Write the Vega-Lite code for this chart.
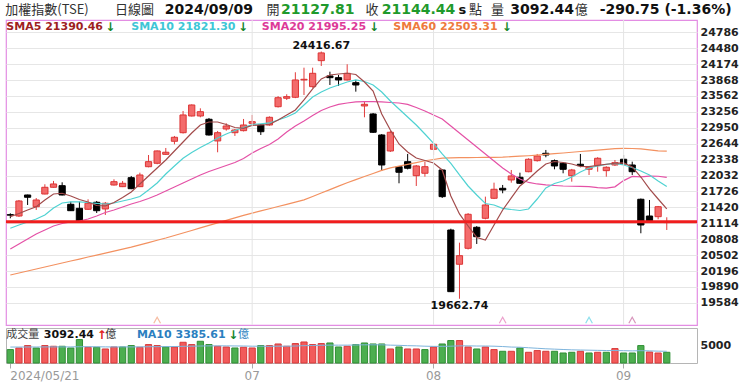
{
"$schema": "https://vega.github.io/schema/vega-lite/v6.json",
"background": "white",
"padding": {"left": 3, "top": 0, "right": 0, "bottom": 0},
"config": {"font": "DejaVu Sans", "view": {"stroke": null}},
"resolve": {"scale": {"x": "shared"}, "axis": {"x": "independent"}},
"spacing": 3,
"bounds": "flush",
"datasets": {
"ohlc": [
{"date":"2024-05-21","open":21280,"high":21306,"low":21210,"close":21270,"volume":3870,"trend":"down","sma5":21241,"sma10":21018,"sma20":20620,"sma60":20120,"vma10":4600},
{"date":"2024-05-22","open":21254,"high":21562,"low":21235,"close":21543,"volume":4335,"trend":"up","sma5":21302,"sma10":21081,"sma20":20716,"sma60":20158,"vma10":4600},
{"date":"2024-05-23","open":21658,"high":21665,"low":21466,"close":21614,"volume":5030,"trend":"up","sma5":21370,"sma10":21139,"sma20":20812,"sma60":20196,"vma10":4620},
{"date":"2024-05-24","open":21433,"high":21600,"low":21370,"close":21562,"volume":4335,"trend":"down","sma5":21433,"sma10":21197,"sma20":20908,"sma60":20235,"vma10":4620},
{"date":"2024-05-27","open":21677,"high":21864,"low":21670,"close":21806,"volume":5030,"trend":"up","sma5":21562,"sma10":21274,"sma20":20985,"sma60":20273,"vma10":4640},
{"date":"2024-05-28","open":21806,"high":21928,"low":21800,"close":21870,"volume":4826,"trend":"up","sma5":21677,"sma10":21408,"sma20":21062,"sma60":20311,"vma10":4650},
{"date":"2024-05-29","open":21837,"high":21902,"low":21650,"close":21658,"volume":4826,"trend":"down","sma5":21691,"sma10":21504,"sma20":21110,"sma60":20350,"vma10":4650},
{"date":"2024-05-30","open":21479,"high":21529,"low":21350,"close":21356,"volume":4335,"trend":"down","sma5":21639,"sma10":21524,"sma20":21139,"sma60":20388,"vma10":4640},
{"date":"2024-05-31","open":21402,"high":21529,"low":21139,"close":21158,"volume":6760,"trend":"down","sma5":21572,"sma10":21524,"sma20":21158,"sma60":20426,"vma10":4700},
{"date":"2024-06-03","open":21383,"high":21575,"low":21370,"close":21499,"volume":4537,"trend":"up","sma5":21524,"sma10":21514,"sma20":21197,"sma60":20465,"vma10":4700},
{"date":"2024-06-04","open":21518,"high":21543,"low":21312,"close":21356,"volume":4537,"trend":"down","sma5":21456,"sma10":21495,"sma20":21254,"sma60":20503,"vma10":4680},
{"date":"2024-06-05","open":21389,"high":21523,"low":21274,"close":21499,"volume":4046,"trend":"up","sma5":21447,"sma10":21485,"sma20":21322,"sma60":20541,"vma10":4650},
{"date":"2024-06-06","open":21850,"high":21960,"low":21840,"close":21914,"volume":4624,"trend":"up","sma5":21514,"sma10":21504,"sma20":21370,"sma60":20580,"vma10":4630},
{"date":"2024-06-07","open":21818,"high":21928,"low":21810,"close":21883,"volume":4624,"trend":"down","sma5":21610,"sma10":21543,"sma20":21427,"sma60":20618,"vma10":4640},
{"date":"2024-06-11","open":21991,"high":22024,"low":21770,"close":21779,"volume":5030,"trend":"down","sma5":21716,"sma10":21581,"sma20":21485,"sma60":20656,"vma10":4650},
{"date":"2024-06-12","open":21818,"high":22087,"low":21810,"close":22043,"volume":4537,"trend":"up","sma5":21870,"sma10":21629,"sma20":21533,"sma60":20698,"vma10":4640},
{"date":"2024-06-13","open":22202,"high":22427,"low":22190,"close":22299,"volume":5318,"trend":"up","sma5":22024,"sma10":21754,"sma20":21591,"sma60":20742,"vma10":4700},
{"date":"2024-06-14","open":22268,"high":22514,"low":22249,"close":22505,"volume":5030,"trend":"up","sma5":22177,"sma10":21889,"sma20":21658,"sma60":20787,"vma10":4720},
{"date":"2024-06-17","open":22440,"high":22562,"low":22427,"close":22480,"volume":4624,"trend":"down","sma5":22331,"sma10":22062,"sma20":21735,"sma60":20831,"vma10":4720},
{"date":"2024-06-18","open":22691,"high":22793,"low":22633,"close":22768,"volume":4624,"trend":"up","sma5":22504,"sma10":22216,"sma20":21812,"sma60":20879,"vma10":4750},
{"date":"2024-06-19","open":22856,"high":23274,"low":22840,"close":23197,"volume":5982,"trend":"up","sma5":22677,"sma10":22364,"sma20":21889,"sma60":20928,"vma10":4820},
{"date":"2024-06-20","open":23177,"high":23400,"low":23168,"close":23389,"volume":5318,"trend":"up","sma5":22850,"sma10":22475,"sma20":21966,"sma60":20976,"vma10":4850},
{"date":"2024-06-21","open":23177,"high":23325,"low":23152,"close":23260,"volume":6271,"trend":"down","sma5":23004,"sma10":22572,"sma20":22043,"sma60":21025,"vma10":4900},
{"date":"2024-06-24","open":23114,"high":23139,"low":22800,"close":22812,"volume":5318,"trend":"down","sma5":23062,"sma10":22658,"sma20":22110,"sma60":21073,"vma10":4950},
{"date":"2024-06-25","open":22697,"high":22889,"low":22479,"close":22856,"volume":4826,"trend":"up","sma5":23062,"sma10":22754,"sma20":22168,"sma60":21122,"vma10":4950},
{"date":"2024-06-26","open":22927,"high":23037,"low":22895,"close":22985,"volume":4624,"trend":"up","sma5":23014,"sma10":22831,"sma20":22226,"sma60":21170,"vma10":4950},
{"date":"2024-06-27","open":22856,"high":22927,"low":22793,"close":22908,"volume":4335,"trend":"down","sma5":22956,"sma10":22899,"sma20":22283,"sma60":21218,"vma10":4920},
{"date":"2024-06-28","open":22895,"high":23120,"low":22880,"close":23004,"volume":4537,"trend":"up","sma5":22941,"sma10":22956,"sma20":22360,"sma60":21267,"vma10":4900},
{"date":"2024-07-01","open":23036,"high":23197,"low":23020,"close":23068,"volume":4335,"trend":"up","sma5":22995,"sma10":23014,"sma20":22466,"sma60":21310,"vma10":4850},
{"date":"2024-07-02","open":23004,"high":23020,"low":22812,"close":22875,"volume":5030,"trend":"down","sma5":23004,"sma10":23027,"sma20":22552,"sma60":21352,"vma10":4850},
{"date":"2024-07-03","open":23004,"high":23170,"low":22990,"close":23152,"volume":5030,"trend":"up","sma5":23014,"sma10":23043,"sma20":22629,"sma60":21394,"vma10":4820},
{"date":"2024-07-04","open":23356,"high":23560,"low":23340,"close":23529,"volume":5491,"trend":"up","sma5":23100,"sma10":23100,"sma20":22735,"sma60":21436,"vma10":4850},
{"date":"2024-07-05","open":23518,"high":23595,"low":23485,"close":23549,"volume":4826,"trend":"up","sma5":23197,"sma10":23158,"sma20":22870,"sma60":21478,"vma10":4850},
{"date":"2024-07-08","open":23537,"high":24018,"low":23520,"close":23870,"volume":5607,"trend":"up","sma5":23293,"sma10":23235,"sma20":22985,"sma60":21521,"vma10":4900},
{"date":"2024-07-09","open":23870,"high":24106,"low":23581,"close":23883,"volume":6069,"trend":"up","sma5":23485,"sma10":23389,"sma20":23081,"sma60":21563,"vma10":5000},
{"date":"2024-07-10","open":23741,"high":24106,"low":23720,"close":23998,"volume":5318,"trend":"up","sma5":23697,"sma10":23543,"sma20":23187,"sma60":21629,"vma10":5050},
{"date":"2024-07-11","open":24241,"high":24416.67,"low":24139,"close":24390.03,"volume":5607,"trend":"up","sma5":23889,"sma10":23639,"sma20":23283,"sma60":21695,"vma10":5100},
{"date":"2024-07-12","open":23947,"high":24029,"low":23773,"close":23914,"volume":5780,"trend":"down","sma5":23966,"sma10":23716,"sma20":23350,"sma60":21762,"vma10":5150},
{"date":"2024-07-15","open":23914,"high":23966,"low":23754,"close":23870,"volume":4624,"trend":"down","sma5":23985,"sma10":23774,"sma20":23399,"sma60":21828,"vma10":5150},
{"date":"2024-07-16","open":23870,"high":24172,"low":23860,"close":23998,"volume":4826,"trend":"up","sma5":23999,"sma10":23831,"sma20":23427,"sma60":21894,"vma10":5150},
{"date":"2024-07-17","open":23818,"high":23870,"low":23645,"close":23773,"volume":5318,"trend":"down","sma5":23975,"sma10":23870,"sma20":23447,"sma60":21954,"vma10":5200},
{"date":"2024-07-18","open":23370,"high":23452,"low":23152,"close":23402,"volume":5780,"trend":"down","sma5":23831,"sma10":23841,"sma20":23452,"sma60":22013,"vma10":5250},
{"date":"2024-07-19","open":23216,"high":23235,"low":22850,"close":22864,"volume":5491,"trend":"down","sma5":23658,"sma10":23774,"sma20":23452,"sma60":22072,"vma10":5250},
{"date":"2024-07-22","open":22812,"high":22830,"low":22120,"close":22235,"volume":5491,"trend":"down","sma5":23216,"sma10":23639,"sma20":23447,"sma60":22131,"vma10":5250},
{"date":"2024-07-23","open":22504,"high":22889,"low":22485,"close":22864,"volume":4046,"trend":"up","sma5":22908,"sma10":23466,"sma20":23437,"sma60":22180,"vma10":5150},
{"date":"2024-07-26","open":22202,"high":22215,"low":21883,"close":22095,"volume":4624,"trend":"down","sma5":22639,"sma10":23312,"sma20":23427,"sma60":22214,"vma10":5100},
{"date":"2024-07-29","open":22299,"high":22447,"low":22150,"close":22172,"volume":4046,"trend":"up","sma5":22485,"sma10":23158,"sma20":23399,"sma60":22248,"vma10":5000},
{"date":"2024-07-30","open":22029,"high":22235,"low":21831,"close":22216,"volume":4046,"trend":"up","sma5":22370,"sma10":23004,"sma20":23341,"sma60":22282,"vma10":4950},
{"date":"2024-07-31","open":22076,"high":22299,"low":22010,"close":22202,"volume":3870,"trend":"down","sma5":22322,"sma10":22831,"sma20":23274,"sma60":22316,"vma10":4850},
{"date":"2024-08-01","open":22537,"high":22660,"low":22427,"close":22633,"volume":4624,"trend":"up","sma5":22274,"sma10":22652,"sma20":23197,"sma60":22340,"vma10":4800},
{"date":"2024-08-02","open":22139,"high":22150,"low":21600,"close":21626,"volume":5491,"trend":"down","sma5":22139,"sma10":22447,"sma20":23120,"sma60":22366,"vma10":4800},
{"date":"2024-08-05","open":20985,"high":21010,"low":19793,"close":19799,"volume":6474,"trend":"down","sma5":21639,"sma10":22268,"sma20":22985,"sma60":22372,"vma10":4850},
{"date":"2024-08-06","open":20326,"high":20741,"low":19662.74,"close":20491,"volume":6474,"trend":"up","sma5":21293,"sma10":22043,"sma20":22850,"sma60":22375,"vma10":4950},
{"date":"2024-08-07","open":20633,"high":21310,"low":20610,"close":21287,"volume":4624,"trend":"up","sma5":21062,"sma10":21831,"sma20":22716,"sma60":22377,"vma10":4950},
{"date":"2024-08-08","open":21037,"high":21060,"low":20716,"close":20856,"volume":4046,"trend":"down","sma5":20841,"sma10":21658,"sma20":22581,"sma60":22379,"vma10":4900},
{"date":"2024-08-09","open":21210,"high":21626,"low":21190,"close":21466,"volume":4624,"trend":"up","sma5":20793,"sma10":21495,"sma20":22447,"sma60":22381,"vma10":4900},
{"date":"2024-08-12","open":21595,"high":21895,"low":21580,"close":21768,"volume":3870,"trend":"up","sma5":21081,"sma10":21466,"sma20":22312,"sma60":22383,"vma10":4850},
{"date":"2024-08-13","open":21787,"high":21851,"low":21691,"close":21754,"volume":3381,"trend":"down","sma5":21370,"sma10":21402,"sma20":22177,"sma60":22386,"vma10":4750},
{"date":"2024-08-14","open":21947,"high":22139,"low":21895,"close":22024,"volume":3381,"trend":"up","sma5":21601,"sma10":21379,"sma20":22062,"sma60":22395,"vma10":4600},
{"date":"2024-08-15","open":21999,"high":22087,"low":21870,"close":21883,"volume":4335,"trend":"down","sma5":21831,"sma10":21360,"sma20":21966,"sma60":22404,"vma10":4550},
{"date":"2024-08-16","open":22106,"high":22364,"low":22095,"close":22345,"volume":3092,"trend":"up","sma5":21966,"sma10":21389,"sma20":21899,"sma60":22413,"vma10":4400},
{"date":"2024-08-19","open":22318,"high":22447,"low":22300,"close":22408,"volume":3584,"trend":"up","sma5":22120,"sma10":21581,"sma20":21870,"sma60":22424,"vma10":4250},
{"date":"2024-08-20","open":22460,"high":22524,"low":22383,"close":22427,"volume":3381,"trend":"up","sma5":22254,"sma10":21793,"sma20":21851,"sma60":22438,"vma10":4100},
{"date":"2024-08-21","open":22318,"high":22340,"low":22152,"close":22216,"volume":3381,"trend":"down","sma5":22302,"sma10":21879,"sma20":21841,"sma60":22452,"vma10":4000},
{"date":"2024-08-22","open":22268,"high":22290,"low":22075,"close":22152,"volume":2890,"trend":"down","sma5":22283,"sma10":21927,"sma20":21831,"sma60":22466,"vma10":3900},
{"date":"2024-08-23","open":22029,"high":22160,"low":21914,"close":22139,"volume":3092,"trend":"down","sma5":22254,"sma10":22004,"sma20":21826,"sma60":22480,"vma10":3800},
{"date":"2024-08-26","open":22249,"high":22447,"low":22191,"close":22222,"volume":3381,"trend":"up","sma5":22206,"sma10":22100,"sma20":21822,"sma60":22494,"vma10":3750},
{"date":"2024-08-27","open":22152,"high":22210,"low":22043,"close":22191,"volume":2890,"trend":"down","sma5":22202,"sma10":22177,"sma20":21818,"sma60":22506,"vma10":3700},
{"date":"2024-08-28","open":22222,"high":22385,"low":22106,"close":22364,"volume":3092,"trend":"up","sma5":22226,"sma10":22216,"sma20":21800,"sma60":22521,"vma10":3650},
{"date":"2024-08-29","open":22126,"high":22210,"low":22010,"close":22191,"volume":3092,"trend":"down","sma5":22249,"sma10":22245,"sma20":21790,"sma60":22536,"vma10":3600},
{"date":"2024-08-30","open":22235,"high":22331,"low":22216,"close":22280,"volume":4162,"trend":"up","sma5":22268,"sma10":22264,"sma20":21815,"sma60":22550,"vma10":3600},
{"date":"2024-09-02","open":22345,"high":22427,"low":22216,"close":22254,"volume":2890,"trend":"down","sma5":22274,"sma10":22235,"sma20":21935,"sma60":22556,"vma10":3550},
{"date":"2024-09-03","open":22235,"high":22299,"low":22043,"close":22106,"volume":2890,"trend":"down","sma5":22197,"sma10":22187,"sma20":22015,"sma60":22552,"vma10":3500},
{"date":"2024-09-04","open":21576,"high":21590,"low":20922,"close":21081,"volume":5030,"trend":"down","sma5":22004,"sma10":22120,"sma20":22008,"sma60":22544,"vma10":3550},
{"date":"2024-09-05","open":21254,"high":21562,"low":21140,"close":21164,"volume":3179,"trend":"up","sma5":21774,"sma10":22043,"sma20":22020,"sma60":22526,"vma10":3500},
{"date":"2024-09-06","open":21241,"high":21447,"low":21191,"close":21433,"volume":2890,"trend":"up","sma5":21581,"sma10":21927,"sma20":22018,"sma60":22508,"vma10":3420},
{"date":"2024-09-09","open":21127.81,"high":21229,"low":20985,"close":21144.44,"volume":3092.44,"trend":"down","sma5":21390.46,"sma10":21821.30,"sma20":21995.25,"sma60":22503.31,"vma10":3385.61}
],
"signals": [
{"date":"2024-06-14","ma":"SMA60"},
{"date":"2024-08-13","ma":"SMA20"},
{"date":"2024-08-27","ma":"SMA10"},
{"date":"2024-09-03","ma":"SMA5"}
],
"months": [
{"date":"2024-07-01"},
{"date":"2024-08-01"},
{"date":"2024-09-02"}
]
},
"vconcat": [
{
"width": 691, "height": 17,
"view": {"stroke": null},
"data": {"values": [{}]},
"layer": [
{"mark": {"type":"text","text":"加權指數(TSE)","align":"left","baseline":"middle","font":"Noto Sans CJK TC","fontSize":13,"color":"#333333","dx":-5,"dy":1}, "encoding": {"x": {"datum":"2024-05-21","type":"ordinal","axis":null}}},
{"mark": {"type":"text","text":"日線圖","align":"left","baseline":"middle","font":"Noto Sans CJK TC","fontSize":13,"color":"#333333","dx":1,"dy":1}, "encoding": {"x": {"datum":"2024-06-06","type":"ordinal","axis":null}}},
{"mark": {"type":"text","text":"2024/09/09","align":"left","baseline":"middle","fontSize":14,"fontWeight":"bold","color":"#111111","dx":-1,"dy":1}, "encoding": {"x": {"datum":"2024-06-17","type":"ordinal","axis":null}}},
{"mark": {"type":"text","text":"開","align":"left","baseline":"middle","font":"Noto Sans CJK TC","fontSize":13,"color":"#333333","dx":-3,"dy":1}, "encoding": {"x": {"datum":"2024-07-03","type":"ordinal","axis":null}}},
{"mark": {"type":"text","text":"21127.81","align":"left","baseline":"middle","fontSize":14,"fontWeight":"bold","color":"#1f9a2c","dx":3,"dy":1}, "encoding": {"x": {"datum":"2024-07-04","type":"ordinal","axis":null}}},
{"mark": {"type":"text","text":"收","align":"left","baseline":"middle","font":"Noto Sans CJK TC","fontSize":13,"color":"#333333","dx":1,"dy":1}, "encoding": {"x": {"datum":"2024-07-18","type":"ordinal","axis":null}}},
{"mark": {"type":"text","text":"21144.44","align":"left","baseline":"middle","fontSize":14,"fontWeight":"bold","color":"#1f9a2c","dx":0,"dy":1}, "encoding": {"x": {"datum":"2024-07-22","type":"ordinal","axis":null}}},
{"mark": {"type":"text","text":"s","align":"left","baseline":"middle","fontSize":13,"fontWeight":"bold","color":"#111111","dx":-1,"dy":1}, "encoding": {"x": {"datum":"2024-08-06","type":"ordinal","axis":null}}},
{"mark": {"type":"text","text":"點","align":"left","baseline":"middle","font":"Noto Sans CJK TC","fontSize":13,"color":"#333333","dx":1,"dy":1}, "encoding": {"x": {"datum":"2024-08-07","type":"ordinal","axis":null}}},
{"mark": {"type":"text","text":"量","align":"left","baseline":"middle","font":"Noto Sans CJK TC","fontSize":13,"color":"#333333","dx":-3,"dy":1}, "encoding": {"x": {"datum":"2024-08-12","type":"ordinal","axis":null}}},
{"mark": {"type":"text","text":"3092.44","align":"left","baseline":"middle","fontSize":14,"fontWeight":"bold","color":"#111111","dx":-1,"dy":1}, "encoding": {"x": {"datum":"2024-08-14","type":"ordinal","axis":null}}},
{"mark": {"type":"text","text":"億","align":"left","baseline":"middle","font":"Noto Sans CJK TC","fontSize":13,"color":"#333333","dx":3,"dy":1}, "encoding": {"x": {"datum":"2024-08-23","type":"ordinal","axis":null}}},
{"mark": {"type":"text","text":"-290.75 (-1.36%)","align":"left","baseline":"middle","fontSize":14,"fontWeight":"bold","color":"#111111","dx":2,"dy":1}, "encoding": {"x": {"datum":"2024-08-28","type":"ordinal","axis":null}}}
]
},
{
"width": 691, "height": 305,
"view": {"stroke": "#e38de3", "strokeWidth": 1.2},
"layer": [
{
"data": {"name": "ohlc"},
"layer": [
{"mark": {"type": "rule", "strokeWidth": 1},
 "encoding": {
  "x": {"field": "date", "type": "ordinal", "title": null, "axis": null,
   "scale": {"type": "band", "paddingInner": 0, "paddingOuter": 0, "domain": ["2024-05-21","2024-05-22","2024-05-23","2024-05-24","2024-05-27","2024-05-28","2024-05-29","2024-05-30","2024-05-31","2024-06-03","2024-06-04","2024-06-05","2024-06-06","2024-06-07","2024-06-11","2024-06-12","2024-06-13","2024-06-14","2024-06-17","2024-06-18","2024-06-19","2024-06-20","2024-06-21","2024-06-24","2024-06-25","2024-06-26","2024-06-27","2024-06-28","2024-07-01","2024-07-02","2024-07-03","2024-07-04","2024-07-05","2024-07-08","2024-07-09","2024-07-10","2024-07-11","2024-07-12","2024-07-15","2024-07-16","2024-07-17","2024-07-18","2024-07-19","2024-07-22","2024-07-23","2024-07-26","2024-07-29","2024-07-30","2024-07-31","2024-08-01","2024-08-02","2024-08-05","2024-08-06","2024-08-07","2024-08-08","2024-08-09","2024-08-12","2024-08-13","2024-08-14","2024-08-15","2024-08-16","2024-08-19","2024-08-20","2024-08-21","2024-08-22","2024-08-23","2024-08-26","2024-08-27","2024-08-28","2024-08-29","2024-08-30","2024-09-02","2024-09-03","2024-09-04","2024-09-05","2024-09-06","2024-09-09","2024-09-10","2024-09-11","2024-09-12"]}},
  "y": {"field": "low", "type": "quantitative", "title": null,
   "scale": {"domain": [19158, 25023], "zero": false, "nice": false},
   "axis": {"orient": "right", "values": [19584,19890,20196,20502,20808,21114,21420,21726,22032,22338,22644,22950,23256,23562,23868,24174,24480,24786], "tickCount": 100, "format": "d", "labelOverlap": false, "grid": true, "gridColor": "#e6e6e6", "ticks": false, "domain": false, "labelFont": "DejaVu Sans", "labelFontWeight": "bold", "labelFontSize": 11, "labelColor": "#222222", "labelPadding": 3, "title": null}},
  "y2": {"field": "high"},
  "color": {"condition": {"test": "datum.close >= datum.open", "value": "#e23c3c"}, "value": "#000000"}
 }},
{"mark": {"type": "bar", "width": {"band": 0.72}, "strokeWidth": 1},
 "encoding": {
  "x": {"field": "date", "type": "ordinal", "title": null, "axis": null},
  "y": {"field": "open", "type": "quantitative", "title": null},
  "y2": {"field": "close"},
  "fill": {"condition": {"test": "datum.close >= datum.open", "value": "#f36b6b"}, "value": "#000000"},
  "stroke": {"condition": {"test": "datum.close >= datum.open", "value": "#dc3434"}, "value": "#000000"}
 }},
{"mark": {"type": "line", "color": "#f39160", "strokeWidth": 1.2},
 "encoding": {"x": {"field": "date", "type": "ordinal", "title": null, "axis": null}, "y": {"field": "sma60", "type": "quantitative", "title": null}}},
{"mark": {"type": "line", "color": "#e451a6", "strokeWidth": 1.2},
 "encoding": {"x": {"field": "date", "type": "ordinal", "title": null, "axis": null}, "y": {"field": "sma20", "type": "quantitative", "title": null}}},
{"mark": {"type": "line", "color": "#4fd2d2", "strokeWidth": 1.2},
 "encoding": {"x": {"field": "date", "type": "ordinal", "title": null, "axis": null}, "y": {"field": "sma10", "type": "quantitative", "title": null}}},
{"mark": {"type": "line", "color": "#a24b4b", "strokeWidth": 1.2},
 "encoding": {"x": {"field": "date", "type": "ordinal", "title": null, "axis": null}, "y": {"field": "sma5", "type": "quantitative", "title": null}}}
]
},
{
"data": {"name": "months"},
"mark": {"type": "rule", "color": "#e4e4e4", "strokeWidth": 1},
"encoding": {"x": {"field": "date", "type": "ordinal", "title": null, "axis": null}}
},
{
"data": {"values": [{}]},
"layer": [
{"mark": {"type": "rule", "color": "#f01d1d", "strokeWidth": 3},
 "encoding": {"y": {"datum": 21144.44, "type": "quantitative", "title": null}}},
{"mark": {"type": "text", "text": "24416.67", "baseline": "bottom", "align": "center", "fontSize": 11, "fontWeight": "bold", "color": "#111111", "dy": -1},
 "encoding": {"x": {"datum": "2024-07-11", "type": "ordinal", "axis": null}, "y": {"datum": 24416.67, "type": "quantitative", "title": null}}},
{"mark": {"type": "text", "text": "19662.74", "baseline": "top", "align": "center", "fontSize": 11, "fontWeight": "bold", "color": "#111111", "dy": 1},
 "encoding": {"x": {"datum": "2024-08-06", "type": "ordinal", "axis": null}, "y": {"datum": 19662.74, "type": "quantitative", "title": null}}},
{"mark": {"type": "text", "text": "SMA5 21390.46", "align": "left", "baseline": "middle", "fontSize": 11, "fontWeight": "bold", "color": "#9e1f1f", "dx": -4},
 "encoding": {"x": {"datum": "2024-05-21", "type": "ordinal", "axis": null}, "y": {"datum": 24880, "type": "quantitative", "title": null}}},
{"mark": {"type": "text", "text": "↓", "align": "left", "baseline": "middle", "fontSize": 12, "fontWeight": "bold", "color": "#15862a", "dx": 0},
 "encoding": {"x": {"datum": "2024-06-05", "type": "ordinal", "axis": null}, "y": {"datum": 24880, "type": "quantitative", "title": null}}},
{"mark": {"type": "text", "text": "SMA10 21821.30", "align": "left", "baseline": "middle", "fontSize": 11, "fontWeight": "bold", "color": "#3ec6d6", "dx": 0},
 "encoding": {"x": {"datum": "2024-06-11", "type": "ordinal", "axis": null}, "y": {"datum": 24880, "type": "quantitative", "title": null}}},
{"mark": {"type": "text", "text": "↓", "align": "left", "baseline": "middle", "fontSize": 12, "fontWeight": "bold", "color": "#15862a", "dx": 3},
 "encoding": {"x": {"datum": "2024-06-27", "type": "ordinal", "axis": null}, "y": {"datum": 24880, "type": "quantitative", "title": null}}},
{"mark": {"type": "text", "text": "SMA20 21995.25", "align": "left", "baseline": "middle", "fontSize": 11, "fontWeight": "bold", "color": "#dd3a98", "dx": 1},
 "encoding": {"x": {"datum": "2024-07-02", "type": "ordinal", "axis": null}, "y": {"datum": 24880, "type": "quantitative", "title": null}}},
{"mark": {"type": "text", "text": "↓", "align": "left", "baseline": "middle", "fontSize": 12, "fontWeight": "bold", "color": "#15862a", "dx": -4},
 "encoding": {"x": {"datum": "2024-07-19", "type": "ordinal", "axis": null}, "y": {"datum": 24880, "type": "quantitative", "title": null}}},
{"mark": {"type": "text", "text": "SMA60 22503.31", "align": "left", "baseline": "middle", "fontSize": 11, "fontWeight": "bold", "color": "#ee7a3c", "dx": 3},
 "encoding": {"x": {"datum": "2024-07-23", "type": "ordinal", "axis": null}, "y": {"datum": 24880, "type": "quantitative", "title": null}}},
{"mark": {"type": "text", "text": "↓", "align": "left", "baseline": "middle", "fontSize": 12, "fontWeight": "bold", "color": "#15862a", "dx": -1},
 "encoding": {"x": {"datum": "2024-08-13", "type": "ordinal", "axis": null}, "y": {"datum": 24880, "type": "quantitative", "title": null}}}
]
},
{
"data": {"name": "signals"},
"mark": {"type": "point", "shape": "M-1,0.9L0,-0.9L1,0.9", "filled": false, "size": 45, "strokeWidth": 1.2},
"encoding": {
 "x": {"field": "date", "type": "ordinal", "title": null, "axis": null},
 "y": {"datum": 19250, "type": "quantitative", "title": null},
 "color": {"field": "ma", "type": "nominal", "legend": null, "scale": {"domain": ["SMA60","SMA20","SMA10","SMA5"], "range": ["#f4a07a","#e57ab8","#5cd3e6","#c86aa0"]}}
}
}
]
},
{
"width": 691, "height": 35,
"view": {"stroke": "#b5b5b5"},
"layer": [
{
"data": {"name": "ohlc"},
"layer": [
{"mark": {"type": "bar", "width": {"band": 0.72}, "strokeWidth": 1},
 "encoding": {
  "x": {"field": "date", "type": "ordinal", "title": null,
   "axis": {"values": ["2024-05-21","2024-07-01","2024-08-01","2024-09-02"], "labelExpr": "datum.value == '2024-05-21' ? '2024/05/21' : substring(datum.value, 5, 7)", "labelAngle": 0, "labelOverlap": false, "bandPosition": 0.5, "grid": false, "domain": false, "tickColor": "#aaaaaa", "tickSize": 5, "labelColor": "#999999", "labelFontSize": 12, "labelFont": "DejaVu Sans", "labelPadding": 2, "labelAlign": {"condition": {"test": "datum.value == '2024-05-21'", "value": "left"}, "value": "center"}, "title": null}},
  "y": {"field": "volume", "type": "quantitative", "title": null,
   "scale": {"domain": [0, 10100], "nice": false},
   "axis": {"orient": "right", "values": [5000], "format": "d", "grid": false, "ticks": false, "domain": false, "labelFont": "DejaVu Sans", "labelFontWeight": "bold", "labelFontSize": 11, "labelColor": "#222222", "labelPadding": 3, "title": null}},
  "fill": {"condition": {"test": "datum.trend == 'up'", "value": "#f25a5a"}, "value": "#4cae4f"},
  "stroke": {"condition": {"test": "datum.trend == 'up'", "value": "#d83a3a"}, "value": "#2f8f35"}
 }},
{"mark": {"type": "line", "color": "#7db4dc", "strokeWidth": 1},
 "encoding": {"x": {"field": "date", "type": "ordinal", "title": null}, "y": {"field": "vma10", "type": "quantitative", "title": null}}}
]
},
{
"data": {"values": [{}]},
"layer": [
{"mark": {"type": "text", "text": "成交量", "align": "left", "baseline": "middle", "font": "Noto Sans CJK TC", "fontSize": 11, "color": "#444444", "dx": -4},
 "encoding": {"x": {"datum": "2024-05-21", "type": "ordinal", "title": null}, "y": {"datum": 8100, "type": "quantitative", "title": null}}},
{"mark": {"type": "text", "text": "3092.44", "align": "left", "baseline": "middle", "fontSize": 11, "fontWeight": "bold", "color": "#111111", "dx": -1},
 "encoding": {"x": {"datum": "2024-05-27", "type": "ordinal", "title": null}, "y": {"datum": 8100, "type": "quantitative", "title": null}}},
{"mark": {"type": "text", "text": "↑", "align": "left", "baseline": "middle", "fontSize": 12, "fontWeight": "bold", "color": "#e02020", "dx": 0},
 "encoding": {"x": {"datum": "2024-06-04", "type": "ordinal", "title": null}, "y": {"datum": 8100, "type": "quantitative", "title": null}}},
{"mark": {"type": "text", "text": "億", "align": "left", "baseline": "middle", "font": "Noto Sans CJK TC", "fontSize": 11, "color": "#333333", "dx": 0},
 "encoding": {"x": {"datum": "2024-06-05", "type": "ordinal", "title": null}, "y": {"datum": 8100, "type": "quantitative", "title": null}}},
{"mark": {"type": "text", "text": "MA10 3385.61", "align": "left", "baseline": "middle", "fontSize": 11, "fontWeight": "bold", "color": "#2b7fc0", "dx": -3},
 "encoding": {"x": {"datum": "2024-06-12", "type": "ordinal", "title": null}, "y": {"datum": 8100, "type": "quantitative", "title": null}}},
{"mark": {"type": "text", "text": "↓", "align": "left", "baseline": "middle", "fontSize": 12, "fontWeight": "bold", "color": "#15862a", "dx": 2},
 "encoding": {"x": {"datum": "2024-06-26", "type": "ordinal", "title": null}, "y": {"datum": 8100, "type": "quantitative", "title": null}}},
{"mark": {"type": "text", "text": "億", "align": "left", "baseline": "middle", "font": "Noto Sans CJK TC", "fontSize": 11, "color": "#2b7fc0", "dx": 3},
 "encoding": {"x": {"datum": "2024-06-27", "type": "ordinal", "title": null}, "y": {"datum": 8100, "type": "quantitative", "title": null}}}
]
}
]
}
]
}
